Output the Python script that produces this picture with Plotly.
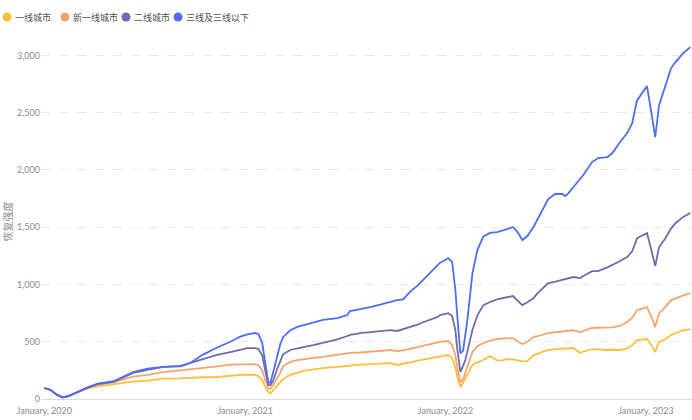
import plotly.graph_objects as go

dates = [
    "2020-01-01", "2020-01-12", "2020-01-23", "2020-02-03", "2020-02-14", "2020-02-23", "2020-03-07", "2020-03-21", "2020-04-07", "2020-04-21",
    "2020-05-06", "2020-05-22", "2020-06-11", "2020-07-07", "2020-08-05", "2020-09-05", "2020-09-23", "2020-10-17", "2020-11-11", "2020-12-05",
    "2020-12-23", "2021-01-05", "2021-01-19", "2021-01-25", "2021-02-01", "2021-02-07", "2021-02-12", "2021-02-16", "2021-02-21", "2021-02-28",
    "2021-03-06", "2021-03-11", "2021-03-24", "2021-04-06", "2021-04-17", "2021-05-05", "2021-05-23", "2021-06-18", "2021-07-06", "2021-07-11",
    "2021-07-30", "2021-08-17", "2021-09-04", "2021-09-22", "2021-10-05", "2021-10-16", "2021-10-29", "2021-11-11", "2021-11-21", "2021-12-04",
    "2021-12-17", "2021-12-22", "2021-12-30", "2022-01-06", "2022-01-13", "2022-01-19", "2022-01-22", "2022-01-28", "2022-02-02", "2022-02-06",
    "2022-02-10", "2022-02-19", "2022-02-28", "2022-03-11", "2022-03-23", "2022-04-05", "2022-04-16", "2022-04-23", "2022-05-04", "2022-05-12",
    "2022-05-21", "2022-05-30", "2022-06-10", "2022-06-17", "2022-06-28", "2022-07-07", "2022-07-20", "2022-08-02", "2022-08-07", "2022-08-13",
    "2022-08-22", "2022-09-03", "2022-09-09", "2022-09-25", "2022-10-06", "2022-10-23", "2022-11-01", "2022-11-15", "2022-11-28", "2022-12-07",
    "2022-12-16", "2022-12-25", "2023-01-03", "2023-01-11", "2023-01-18", "2023-01-25", "2023-02-05", "2023-02-16", "2023-02-24", "2023-03-10",
    "2023-03-23",
]

tier1 = [
    96, 80, 40, 10, 22, 45, 70, 95, 110, 118,
    130, 140, 152, 160, 178, 180, 186, 190, 192, 205,
    210, 212, 210, 200, 165, 100, 61, 50, 75, 115,
    148, 175, 210, 230, 245, 258, 270, 280, 290, 295,
    300, 305, 310, 314, 297, 305, 320, 335, 345, 355,
    365, 375, 378, 384, 358, 270, 200, 105, 140, 175,
    220, 297, 320, 340, 375, 335, 340, 349, 345, 340,
    328, 330, 384, 395, 410, 428, 436, 440, 442, 445,
    445, 402, 415, 436, 432, 428, 430, 428, 440, 470,
    515, 520, 524, 470, 410, 498, 520, 559, 575, 602, 611,
]

new_tier1 = [
    96, 80, 40, 12, 25, 45, 72, 100, 125, 135,
    145, 170, 195, 210, 235, 250, 262, 272, 285, 300,
    303, 305, 305, 297, 250, 160, 96, 90, 120, 180,
    230, 285, 325, 340, 350, 360, 367, 384, 395, 402,
    406, 410, 420, 428, 419, 425, 440, 454, 465, 480,
    495, 498, 503, 506, 471, 380, 280, 148, 175, 230,
    290, 410, 460, 489, 510, 524, 528, 530, 532, 505,
    480, 500, 541, 548, 565, 576, 583, 590, 592, 595,
    602, 585, 595, 620, 622, 628, 625, 640, 672, 710,
    777, 790, 803, 720, 628, 750, 800, 864, 880, 905, 925,
]

tier2 = [
    96, 80, 40, 15, 25, 45, 70, 100, 130, 140,
    150, 185, 228, 255, 280, 290, 314, 345, 385, 410,
    430, 445, 445, 437, 380, 230, 122, 120, 160, 260,
    340, 390, 428, 445, 454, 470, 489, 520, 550, 560,
    575, 585, 595, 602, 594, 610, 628, 650, 670, 690,
    715, 733, 745, 750, 725, 600, 450, 236, 290, 340,
    420, 602, 730, 820, 847, 870, 882, 890, 899, 860,
    820, 845, 880, 920, 970, 1012, 1025, 1040, 1048, 1050,
    1065, 1056, 1075, 1117, 1117, 1150, 1170, 1205, 1240, 1290,
    1405, 1430, 1449, 1300, 1161, 1327, 1400, 1490, 1535, 1590, 1624,
]

tier3_below = [
    96, 80, 40, 15, 25, 45, 70, 105, 135, 145,
    155, 190, 235, 265, 280, 285, 314, 390, 450, 500,
    545, 565, 576, 568, 490, 300, 150, 140, 230, 380,
    480, 540, 600, 630, 645, 665, 690, 707, 733, 768,
    785, 803, 825, 847, 864, 870, 940, 990, 1040, 1100,
    1170, 1190, 1210, 1231, 1196, 950, 750, 400, 420, 560,
    700, 1100, 1300, 1420, 1450, 1458, 1470, 1484, 1502, 1458,
    1388, 1423, 1500, 1563, 1667, 1746, 1790, 1790, 1772, 1798,
    1851, 1920, 1956, 2069, 2104, 2113, 2148, 2244, 2322, 2409,
    2610, 2671, 2732, 2500, 2287, 2566, 2724, 2890, 2942, 3020, 3073,
]

series_names = ["一线城市", "新一线城市", "二线城市", "三线及三线以下"]
series_values = [tier1, new_tier1, tier2, tier3_below]
colors = ["#FBBF3C", "#F4A56E", "#6E6CAA", "#4D6EF3"]

y_ticks = [0, 500, 1000, 1500, 2000, 2500, 3000]
y_title = "恢复强度"

# layout geometry (pixels)
W, H = 692, 420
ML, MR, MT, MB = 41, 0, 44, 21
PW, PH = W - ML - MR, H - MT - MB
legend_marker_px = [7, 65, 126, 178]
legend_y_px = 17


def px_to_paper_x(px):
    return (px - ML) / PW


def px_to_paper_y(py):
    return 1 + (MT - py) / PH


fig = go.Figure()
for name, vals, col in zip(series_names, series_values, colors):
    fig.add_trace(go.Scatter(
        x=dates, y=vals, mode="lines", name=name,
        line=dict(color=col, width=1.8), showlegend=False,
    ))

# compact legend: round markers + labels
for name, col, mx in zip(series_names, colors, legend_marker_px):
    fig.add_shape(
        type="circle", xref="paper", yref="paper",
        xsizemode="pixel", ysizemode="pixel",
        xanchor=px_to_paper_x(mx), yanchor=px_to_paper_y(legend_y_px),
        x0=-4.5, x1=4.5, y0=-4.5, y1=4.5,
        fillcolor=col, line=dict(width=0),
    )
    fig.add_annotation(
        text=name, xref="paper", yref="paper",
        x=px_to_paper_x(mx + 6), y=px_to_paper_y(legend_y_px),
        xanchor="left", yanchor="middle", showarrow=False,
        font=dict(family="Noto Sans CJK SC", size=9, color="#505050"),
    )

tick_font = dict(family="Lato, sans-serif", size=9, color="#8c8c8c")

fig.update_layout(
    width=W, height=H,
    margin=dict(l=ML, r=MR, t=MT, b=MB),
    paper_bgcolor="white", plot_bgcolor="white",
    showlegend=False,
    xaxis=dict(
        type="date", range=["2019-12-26", "2023-03-26"],
        tick0="2020-01-01", dtick="M12", tickformat="%B, %Y",
        showgrid=False, zeroline=False, showline=True, linecolor="#d9d9d9", linewidth=1,
        tickfont=tick_font, ticklabelstandoff=3,
    ),
    yaxis=dict(
        range=[0, 3100], tickvals=y_ticks, tickformat=",",
        showgrid=True, gridcolor="#e9e9e9", griddash="dash", gridwidth=1,
        zeroline=False, showline=False, tickfont=tick_font,
        title=dict(text=y_title, font=dict(family="Noto Sans CJK SC", size=10, color="#8c8c8c"), standoff=6),
    ),
)

fig.write_html(
    "out.html",
    config={"displayModeBar": False},
    post_script="document.body.style.margin='0px';document.body.style.padding='0px';",
)
